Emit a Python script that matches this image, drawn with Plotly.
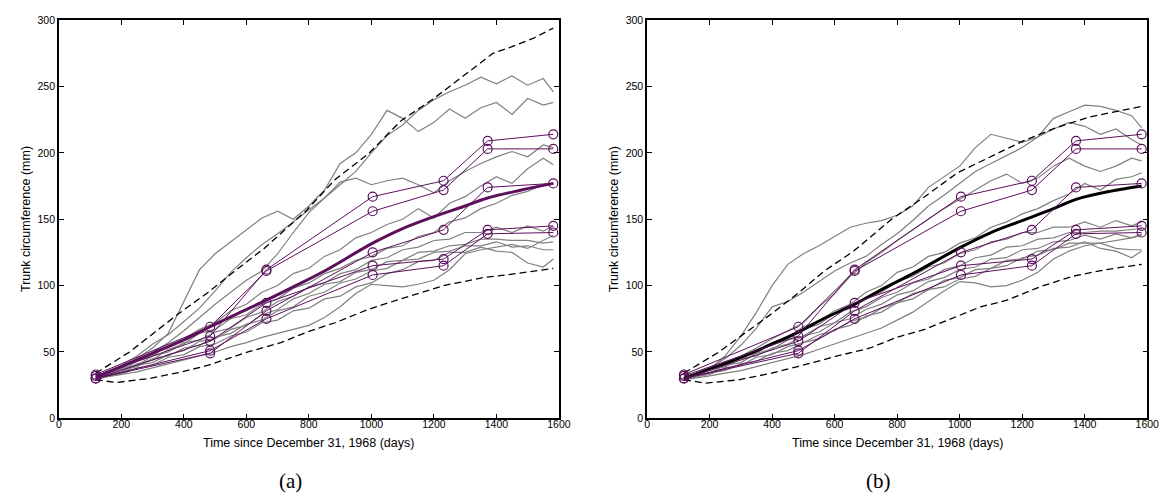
import plotly.graph_objects as go

# observation times and the five orange trees (purple circles)
obs_days = [118, 484, 664, 1004, 1231, 1372, 1582]
tree1 = [30, 58, 87, 115, 120, 142, 145]
tree2 = [33, 69, 111, 156, 172, 203, 203]
tree3 = [30, 51, 75, 108, 115, 139, 140]
tree4 = [32, 62, 112, 167, 179, 209, 214]
tree5 = [30, 49, 81, 125, 142, 174, 177]
trees = [tree1, tree2, tree3, tree4, tree5]

# grid used for the simulated gray paths
sim_days = [118, 150, 200, 250, 300, 350, 400, 450, 500, 550, 600, 650, 700, 750, 800,
            850, 900, 950, 1000, 1050, 1100, 1150, 1200, 1250, 1300, 1350, 1400, 1450,
            1500, 1550, 1582]

# panel (a) simulated paths
paths_a = [
    [31, 34, 39, 45, 53, 64, 88, 112, 124, 133, 142, 151, 156, 150, 160, 172, 192, 200, 214, 232, 226, 216, 223, 233, 226, 234, 238, 229, 241, 236, 238],
    [31, 35, 40, 47, 56, 63, 73, 83, 96, 110, 121, 131, 139, 148, 157, 166, 176, 186, 200, 213, 221, 232, 240, 246, 251, 257, 252, 258, 251, 256, 246],
    [31, 33, 38, 44, 50, 57, 66, 76, 86, 95, 104, 111, 124, 140, 155, 166, 178, 181, 176, 179, 181, 176, 170, 179, 186, 192, 197, 201, 197, 206, 204],
    [30, 32, 36, 43, 47, 55, 60, 67, 72, 81, 86, 95, 100, 109, 113, 122, 127, 136, 140, 146, 150, 158, 151, 162, 167, 175, 182, 177, 188, 196, 191],
    [30, 32, 35, 41, 44, 52, 56, 64, 67, 75, 78, 86, 90, 98, 102, 109, 113, 119, 122, 128, 130, 137, 140, 148, 151, 158, 162, 168, 171, 176, 177],
    [31, 33, 38, 40, 47, 50, 57, 59, 65, 68, 76, 80, 88, 92, 99, 102, 109, 112, 119, 121, 127, 129, 134, 135, 140, 140, 144, 140, 145, 141, 145],
    [30, 32, 34, 40, 42, 48, 51, 58, 60, 67, 70, 78, 82, 90, 94, 101, 103, 110, 112, 118, 119, 125, 126, 130, 131, 135, 135, 134, 134, 132, 133],
    [32, 33, 37, 39, 45, 47, 53, 55, 61, 64, 71, 74, 81, 84, 92, 95, 102, 105, 111, 113, 119, 120, 125, 126, 130, 130, 133, 129, 130, 127, 127],
    [30, 32, 33, 38, 40, 46, 48, 54, 56, 62, 65, 72, 74, 81, 83, 90, 92, 99, 102, 109, 112, 118, 119, 125, 125, 129, 126, 125, 117, 114, 120],
    [29, 31, 33, 35, 38, 41, 44, 47, 50, 54, 57, 61, 64, 67, 70, 76, 84, 94, 101, 100, 99, 101, 104, 112, 124, 127, 129, 131, 128, 134, 138],
]

# panel (b) simulated paths
paths_b = [
    [31, 33, 37, 47, 62, 80, 100, 116, 124, 130, 137, 144, 147, 149, 153, 160, 174, 182, 190, 204, 214, 211, 208, 212, 226, 231, 236, 235, 232, 228, 219],
    [30, 33, 38, 45, 55, 68, 84, 88, 95, 103, 111, 117, 122, 131, 139, 149, 160, 168, 177, 186, 192, 198, 204, 212, 218, 223, 220, 214, 218, 210, 206],
    [31, 33, 37, 42, 47, 53, 60, 66, 72, 84, 94, 107, 117, 125, 134, 142, 150, 158, 165, 172, 179, 184, 177, 181, 190, 196, 190, 186, 190, 196, 194],
    [30, 32, 36, 39, 46, 49, 57, 61, 69, 73, 81, 86, 95, 100, 110, 114, 122, 125, 132, 136, 144, 148, 154, 158, 164, 169, 177, 172, 180, 182, 185],
    [31, 33, 37, 40, 47, 50, 57, 60, 67, 71, 79, 83, 91, 95, 103, 107, 114, 117, 124, 127, 133, 135, 140, 140, 144, 144, 148, 144, 149, 145, 148],
    [30, 32, 34, 40, 42, 49, 52, 59, 62, 69, 72, 80, 84, 91, 95, 102, 105, 112, 115, 121, 123, 129, 130, 135, 136, 140, 140, 141, 141, 142, 143],
    [32, 33, 37, 39, 45, 47, 53, 56, 62, 65, 72, 75, 82, 86, 93, 96, 103, 106, 112, 114, 120, 121, 127, 128, 133, 134, 138, 135, 139, 136, 139],
    [30, 31, 33, 38, 40, 46, 48, 54, 57, 63, 66, 73, 76, 83, 87, 94, 97, 104, 106, 112, 113, 119, 120, 126, 127, 132, 132, 132, 128, 127, 127],
    [29, 31, 34, 36, 41, 43, 49, 51, 57, 60, 67, 70, 77, 80, 87, 90, 97, 99, 105, 107, 113, 115, 121, 123, 128, 129, 133, 128, 126, 121, 126],
    [29, 30, 32, 34, 36, 39, 42, 45, 48, 52, 56, 60, 64, 68, 74, 80, 88, 96, 103, 102, 99, 100, 104, 110, 120, 126, 130, 132, 134, 136, 138],
]

# fitted mean curves
mean_days = [118, 200, 300, 400, 484, 564, 664, 750, 850, 1004, 1100, 1200, 1300, 1372, 1480, 1582]
mean_a = [31, 39, 49, 59, 69, 78, 89, 99, 111, 132, 143, 152, 160, 166, 172, 177]
mean_b = [30, 37, 46, 56, 65, 75, 86, 97, 109, 129, 140, 149, 158, 165, 171, 175]

# 95% bands (dashed)
upper_a_days = [118, 226, 384, 478, 563, 657, 794, 884, 989, 1094, 1200, 1305, 1389, 1450, 1515, 1582]
upper_a = [34, 50, 79, 95, 111, 128, 157, 180, 199, 224, 241, 260, 275, 280, 286, 294]
lower_a_days = [118, 184, 289, 394, 478, 605, 710, 794, 884, 989, 1094, 1231, 1358, 1463, 1582]
lower_a = [29, 27, 30, 35, 40, 50, 57, 65, 72, 82, 90, 100, 106, 109, 113]
upper_b_days = [118, 230, 388, 482, 567, 661, 782, 888, 993, 1098, 1203, 1309, 1414, 1519, 1582]
upper_b = [34, 50, 77, 94, 111, 126, 150, 167, 185, 197, 209, 219, 227, 232, 235]
lower_b_days = [118, 188, 293, 398, 482, 609, 714, 798, 888, 993, 1067, 1151, 1256, 1361, 1467, 1582]
lower_b = [29, 26.5, 29, 34, 39, 47, 53, 61, 67, 77, 84, 89, 99, 107, 112, 116]

GRAY = "rgb(128,128,128)"
PURPLE = "rgb(92,16,92)"
DASH = "7px,4px"

fig = go.Figure()


def add_panel(col, paths, upper_days, upper, lower_days, lower, mean, mean_color):
    xa = "x" if col == 1 else "x2"
    ya = "y" if col == 1 else "y2"
    for p in paths:
        fig.add_trace(go.Scatter(x=sim_days, y=p, mode="lines", xaxis=xa, yaxis=ya,
                                 line=dict(color=GRAY, width=1.2)))
    fig.add_trace(go.Scatter(x=upper_days, y=upper, mode="lines", xaxis=xa, yaxis=ya,
                             line=dict(color="black", width=1.3, dash=DASH)))
    fig.add_trace(go.Scatter(x=lower_days, y=lower, mode="lines", xaxis=xa, yaxis=ya,
                             line=dict(color="black", width=1.3, dash=DASH)))
    fig.add_trace(go.Scatter(x=mean_days, y=mean, mode="lines", xaxis=xa, yaxis=ya,
                             line=dict(color=mean_color, width=3, shape="spline")))
    for t in trees:
        fig.add_trace(go.Scatter(x=obs_days, y=t, mode="lines+markers", xaxis=xa, yaxis=ya,
                                 line=dict(color=PURPLE, width=1),
                                 marker=dict(symbol="circle-open", size=9, color=PURPLE,
                                             line=dict(width=1.2))))


add_panel(1, paths_a, upper_a_days, upper_a, lower_a_days, lower_a, mean_a, PURPLE)
add_panel(2, paths_b, upper_b_days, upper_b, lower_b_days, lower_b, mean_b, "black")

W, H = 1172, 498
x1 = [48.5 / W, 555 / W]
x2 = [644.3 / W, 1151 / W]
yd = [(H - 414.3) / H, (H - 6.3) / H]

axis_style = dict(showgrid=False, zeroline=False, showline=True, linecolor="black",
                  linewidth=1.5, mirror="ticks", ticks="inside", ticklen=5,
                  tickcolor="black", tickfont=dict(size=10.5, color="black"),
                  ticklabeloverflow="allow")

fig.update_layout(
    width=W, height=H,
    margin=dict(l=0, r=0, t=0, b=0),
    paper_bgcolor="white", plot_bgcolor="white",
    showlegend=False,
    font=dict(family="Liberation Sans, Arial, sans-serif", color="black"),
    xaxis=dict(domain=x1, range=[0, 1600], dtick=200, anchor="y", ticklabelstandoff=-5, **axis_style),
    yaxis=dict(domain=yd, range=[0, 300], dtick=50, anchor="x", **axis_style),
    xaxis2=dict(domain=x2, range=[0, 1600], dtick=200, anchor="y2", ticklabelstandoff=-5, **axis_style),
    yaxis2=dict(domain=yd, range=[0, 300], dtick=50, anchor="x2", **axis_style),
)

ylab = "Trunk circumference (mm)"
xlab = "Time since December 31, 1968 (days)"
for xd, tag in [(x1, "(a)"), (x2, "(b)")]:
    cx = (xd[0] + xd[1]) / 2
    fig.add_annotation(x=cx, y=(H - 440) / H, xref="paper", yref="paper", text=xlab,
                       xanchor="center", yanchor="middle", showarrow=False, font=dict(size=12.5))
    fig.add_annotation(x=xd[0] + 234.5 / W, y=(H - 479) / H, xref="paper", yref="paper", text=tag,
                       xanchor="center", yanchor="middle", showarrow=False,
                       font=dict(size=21, family="Liberation Serif, serif"))
    fig.add_annotation(x=xd[0] - 33.5 / W, y=(yd[0] + yd[1]) / 2, xref="paper", yref="paper",
                       text=ylab, textangle=-90, xanchor="center", yanchor="middle",
                       showarrow=False, font=dict(size=12.5))

fig.write_html("out.html")
